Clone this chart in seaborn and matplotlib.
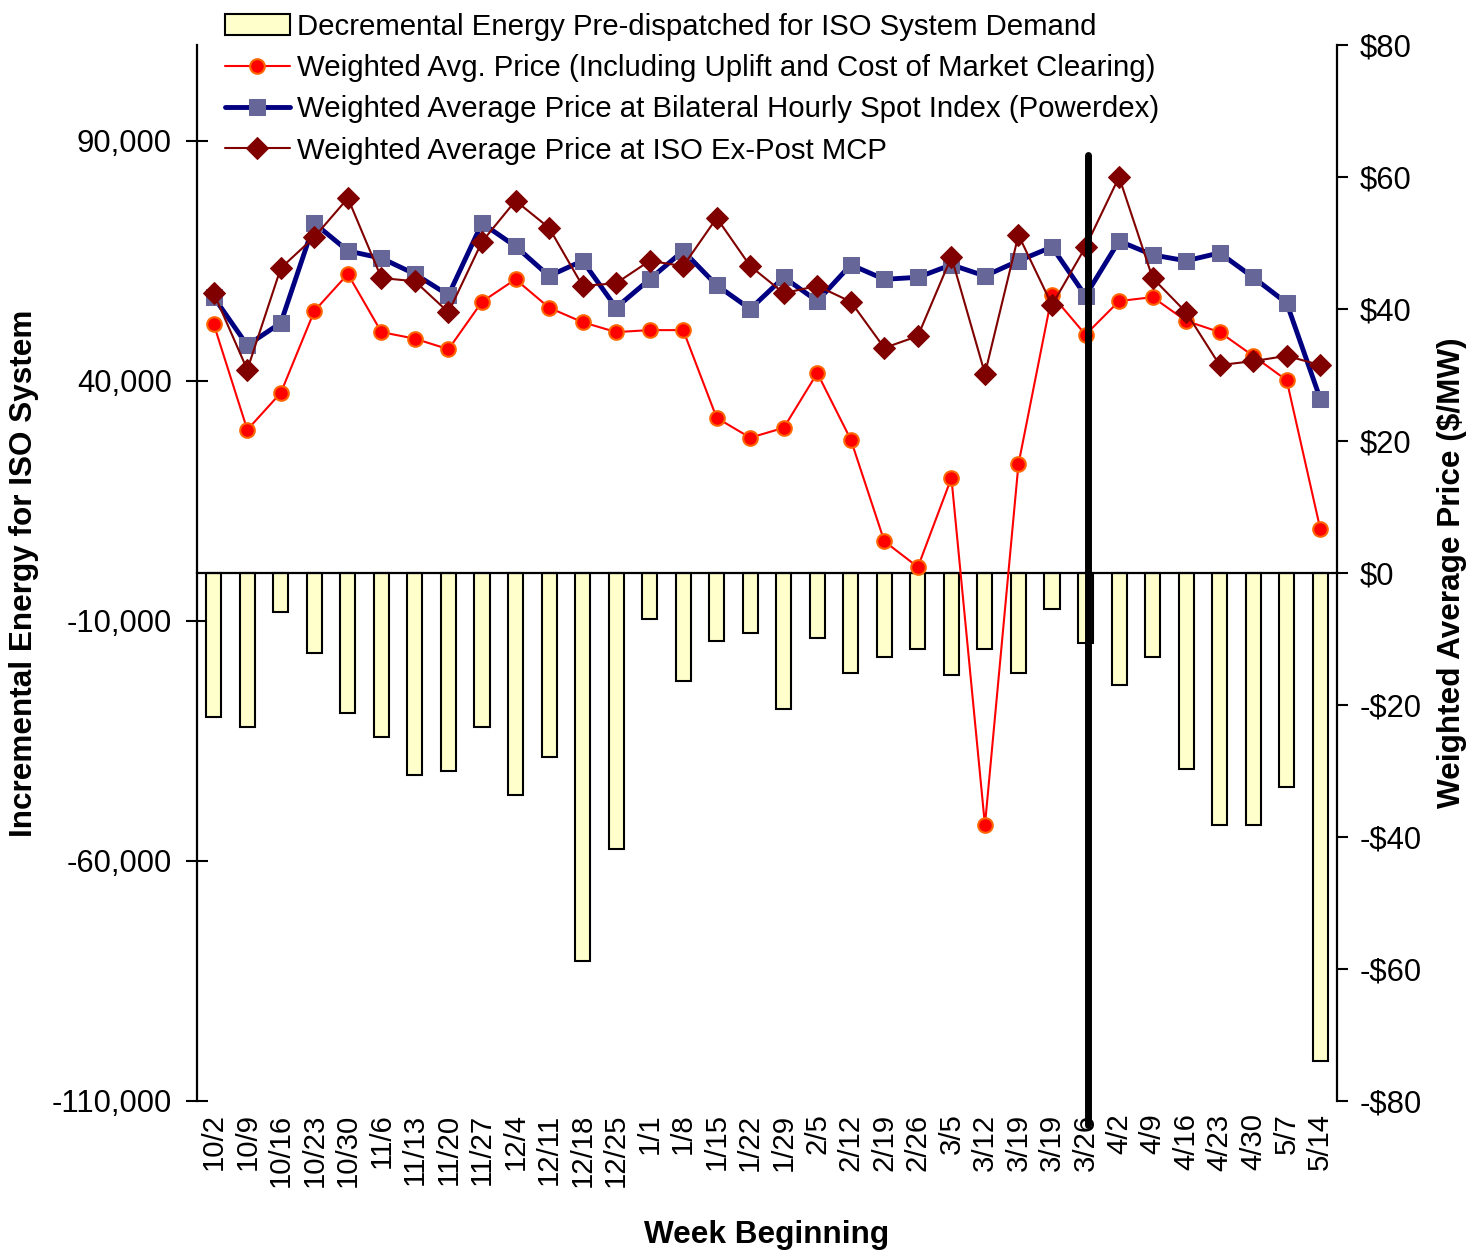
import numpy as np
import pandas as pd
import matplotlib.pyplot as plt
from matplotlib.ticker import FuncFormatter
import seaborn as sns

# week labels (3/19 appears twice in the source chart)
weeks = ['10/2', '10/9', '10/16', '10/23', '10/30', '11/6', '11/13', '11/20',
         '11/27', '12/4', '12/11', '12/18', '12/25', '1/1', '1/8', '1/15',
         '1/22', '1/29', '2/5', '2/12', '2/19', '2/26', '3/5', '3/12',
         '3/19', '3/19', '3/26', '4/2', '4/9', '4/16', '4/23', '4/30',
         '5/7', '5/14']

# decremental energy pre-dispatched (MWh, left axis)
decremental = [-30000, -32100, -8200, -16700, -29200, -34200, -42100, -41200,
               -32100, -46200, -38300, -80800, -57500, -9600, -22500, -14200,
               -12400, -28300, -13600, -20800, -17500, -15800, -21300, -15800,
               -20800, -7400, -14600, -23300, -17500, -40800, -52500, -52500,
               -44600, -101600]

# prices ($/MW, right axis)
price_uplift = [37.7, 21.7, 27.3, 39.7, 45.3, 36.5, 35.5, 33.9, 41.1, 44.5,
                40.2, 38.0, 36.5, 36.8, 36.8, 23.5, 20.5, 22.0, 30.3, 20.2,
                4.8, 0.9, 14.4, -38.2, 16.5, 42.1, 36.1, 41.2, 41.8, 38.2,
                36.5, 32.9, 29.2, 6.7]
price_powerdex = [41.8, 34.5, 37.9, 53.0, 48.8, 47.7, 45.3, 42.1, 53.0, 49.5,
                  45.0, 47.3, 40.2, 44.5, 48.8, 43.6, 40.0, 44.8, 41.2, 46.7,
                  44.5, 44.8, 46.7, 45.0, 47.3, 49.4, 42.0, 50.3, 48.2, 47.3,
                  48.5, 44.8, 40.9, 26.4]
price_expost = [42.4, 30.8, 46.2, 50.9, 56.8, 44.7, 44.2, 39.5, 50.2, 56.4,
                52.3, 43.5, 43.9, 47.3, 46.5, 53.8, 46.5, 42.4, 43.5, 41.1,
                34.1, 35.9, 47.9, 30.2, 51.2, 40.6, 49.4, 60.0, 44.7, 39.5,
                31.5, 32.1, 32.9, 31.5]

df = pd.DataFrame({'pos': np.arange(len(weeks)), 'week': weeks,
                   'dec': decremental, 'uplift': price_uplift,
                   'powerdex': price_powerdex, 'expost': price_expost})

sns.set_style('white')
plt.rcParams['font.family'] = ['Liberation Sans', 'DejaVu Sans']
for k in ['text.color', 'axes.labelcolor', 'xtick.color', 'ytick.color',
          'axes.edgecolor']:
    plt.rcParams[k] = 'black'
FS = 21.15     # legend / x tick text
TS = 22.3      # y tick labels
LS = 22.7      # axis titles

fig = plt.figure(figsize=(14.7, 12.53), dpi=100)
ax = fig.add_axes([197 / 1470, 1 - 1101 / 1253, 1140 / 1470, 1056 / 1253])
ax2 = ax.twinx()

# bars on the energy axis
sns.barplot(data=df, x='pos', y='dec', native_scale=True, width=0.45,
            color='#FFFFCC', saturation=1, edgecolor='black', linewidth=1.5,
            ax=ax, label='Decremental Energy Pre-dispatched for ISO System Demand')

ax.set_xlim(-0.5, len(weeks) - 0.5)
ax.set_ylim(-110000, 110000)
ax.set_yticks([-110000, -60000, -10000, 40000, 90000])
ax.yaxis.set_major_formatter(FuncFormatter(lambda v, p: f'{v:,.0f}'))
ax.spines['bottom'].set_position(('data', 0))
ax.spines['top'].set_visible(False)
ax.spines['right'].set_visible(False)
for s in ['left', 'bottom']:
    ax.spines[s].set_linewidth(1.6)
ax.set_xticks(np.arange(-0.5, len(weeks), 1))
ax.tick_params(axis='x', direction='inout', length=14, width=1.5,
               labelbottom=False)
ax.tick_params(axis='y', direction='inout', length=16, width=1.5,
               labelsize=TS, pad=10)
ax.set_xlabel('')
ax.set_ylabel('Incremental Energy for ISO System', fontsize=LS,
              fontweight='bold', labelpad=9)

# category labels along the bottom
sec = ax.secondary_xaxis('bottom')
sec.set_xticks(df['pos'], labels=weeks, rotation=90)
sec.tick_params(length=0, pad=9, labelsize=FS)
sec.spines['bottom'].set_visible(False)
sec.set_xlabel('Week Beginning', fontsize=LS, fontweight='bold', labelpad=24)

# price lines
sns.lineplot(data=df, x='pos', y='uplift', ax=ax2, color='red', lw=1.5,
             marker='o', markersize=10.5, markerfacecolor='red',
             markeredgecolor='#FF6600', markeredgewidth=1.5,
             label='Weighted Avg. Price (Including Uplift and Cost of Market Clearing)')
sns.lineplot(data=df, x='pos', y='powerdex', ax=ax2, color='#000080', lw=3.5,
             marker='s', markersize=11.5, markerfacecolor='#666699',
             markeredgecolor='#666699',
             label='Weighted Average Price at Bilateral Hourly Spot Index (Powerdex)')
sns.lineplot(data=df, x='pos', y='expost', ax=ax2, color='#800000', lw=1.5,
             marker='D', markersize=11.5, markerfacecolor='#800000',
             markeredgecolor='#800000',
             label='Weighted Average Price at ISO Ex-Post MCP')

# divider at the 3/26 week
div_x = weeks.index('3/26') + 0.07
ax2.plot([div_x, div_x], [63.3, -83.6], color='black', lw=5,
         solid_capstyle='round', clip_on=False, zorder=6)

ax2.set_ylim(-80, 80)
ax2.set_yticks(range(-80, 81, 20))
ax2.yaxis.set_major_formatter(
    FuncFormatter(lambda v, p: f'-${abs(v):.0f}' if v < 0 else f'${v:.0f}'))
for s in ['top', 'left', 'bottom']:
    ax2.spines[s].set_visible(False)
ax2.spines['right'].set_linewidth(1.6)
ax2.tick_params(axis='y', direction='out', length=8, width=1.5,
                labelsize=TS, pad=8)
ax2.set_ylabel('Weighted Average Price ($/MW)', fontsize=LS,
               fontweight='bold', labelpad=11)

# legend
h1, l1 = ax.get_legend_handles_labels()
h2, l2 = ax2.get_legend_handles_labels()
if ax.get_legend():
    ax.get_legend().remove()
ax2.legend(h1 + h2, l1 + l2, loc='upper left',
           bbox_to_anchor=(225 / 1470, 1 - 13 / 1253),
           bbox_transform=fig.transFigure, frameon=False, fontsize=FS,
           handlelength=2.2, handletextpad=0.25, labelspacing=0.45,
           borderpad=0, borderaxespad=0)

fig.savefig('out.png', dpi=100)
